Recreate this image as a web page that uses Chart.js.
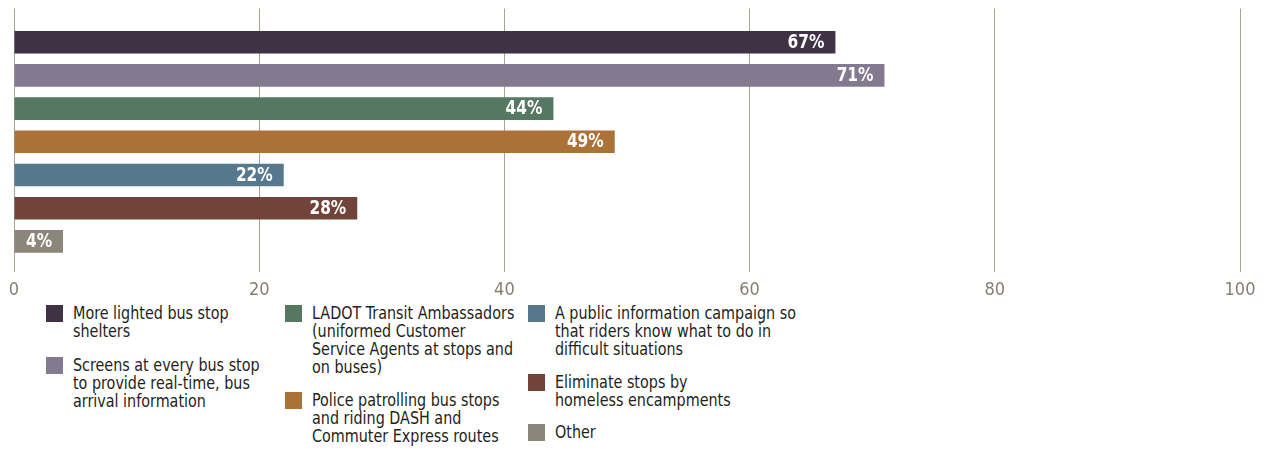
<!DOCTYPE html>
<html><head><meta charset="utf-8">
<script src="https://cdn.jsdelivr.net/npm/chart.js@4.4.0/dist/chart.umd.min.js"></script>
<style>
html,body{margin:0;padding:0;background:#fff;}
#wrap{position:relative;width:1265px;height:452px;overflow:hidden;}
#chartBox{position:absolute;left:0;top:0;width:1265px;height:300px;}
.lg{position:absolute;font-family:'DejaVu Sans Condensed',sans-serif;font-size:18px;line-height:18px;color:#231f20;white-space:nowrap;transform:scaleX(0.886);transform-origin:left top;}
.sw{position:absolute;width:17px;height:17px;}
</style></head>
<body><div id="wrap"><div id="chartBox"><canvas id="cv"></canvas></div><div id="legend"></div></div>
<script>
const categories = [
  ["More lighted bus stop", "shelters"],
  ["Screens at every bus stop", "to provide real-time, bus", "arrival information"],
  ["LADOT Transit Ambassadors", "(uniformed Customer", "Service Agents at stops and", "on buses)"],
  ["Police patrolling bus stops", "and riding DASH and", "Commuter Express routes"],
  ["A public information campaign so", "that riders know what to do in", "difficult situations"],
  ["Eliminate stops by", "homeless encampments"],
  ["Other"]
];
const values = [67, 71, 44, 49, 22, 28, 4];
const barColors = ['#3f3245', '#847a8f', '#557862', '#ab7238', '#56788d', '#724439', '#8c857a'];
const xTickValues = [0, 20, 40, 60, 80, 100];

// legend layout (positions only)
const legendPos = [[46, 304], [46, 356], [285, 304], [285, 391], [528, 304], [528, 373], [528, 423]];

const gridColor = '#a8a296';
const tickColor = '#857e72';

const valueLabels = {
  id: 'valueLabels',
  afterDatasetsDraw(chart) {
    const ctx = chart.ctx;
    const meta = chart.getDatasetMeta(0);
    ctx.save();
    ctx.fillStyle = '#ffffff';
    ctx.font = "bold 19px 'DejaVu Sans Condensed', sans-serif";
    ctx.textAlign = 'right';
    ctx.textBaseline = 'alphabetic';
    meta.data.forEach((el, i) => {
      const txt = chart.data.datasets[0].data[i] + '%';
      const xr = el.x - 11;
      ctx.save();
      ctx.translate(xr, el.y + 5.5);
      ctx.scale(0.9, 1);
      ctx.fillText(txt, 0, 0);
      ctx.restore();
    });
    ctx.restore();
  }
};

const chart = new Chart(document.getElementById('cv'), {
  type: 'bar',
  data: {
    labels: categories,
    datasets: [{
      data: values,
      backgroundColor: barColors,
      borderWidth: 0,
      categoryPercentage: 1,
      barPercentage: 0.68
    }]
  },
  options: {
    indexAxis: 'y',
    responsive: true,
    maintainAspectRatio: false,
    animation: false,
    devicePixelRatio: 1,
    layout: { padding: { left: 14, right: 25, top: 9, bottom: 0 } },
    plugins: { legend: { display: false }, tooltip: { enabled: false } },
    scales: {
      y: { type: 'category', display: false },
      x: {
        type: 'linear', position: 'bottom', min: 0, max: 100,
        afterBuildTicks(s) { s.ticks = xTickValues.map(v => ({ value: v })); },
        ticks: { color: tickColor, padding: 8, font: { family: "'DejaVu Sans Condensed', sans-serif", size: 18 } },
        grid: { color: gridColor, lineWidth: 1, drawTicks: true, tickLength: 14, tickColor: gridColor },
        border: { display: false },
        afterFit(s) { s.height = 42; }
      },
      xTop: {
        type: 'linear', position: 'top', min: 0, max: 100,
        afterBuildTicks(s) { s.ticks = xTickValues.map(v => ({ value: v })); },
        ticks: { display: false },
        grid: { drawOnChartArea: false, drawTicks: true, tickLength: 17, color: gridColor, tickColor: gridColor },
        border: { display: false },
        afterFit(s) { s.height = 16.6; }
      }
    }
  },
  plugins: [valueLabels]
});

const lg = document.getElementById('legend');
categories.forEach((lines, i) => {
  const [x, y] = legendPos[i];
  const sw = document.createElement('div');
  sw.className = 'sw';
  sw.style.left = x + 'px';
  sw.style.top = (y + 1) + 'px';
  sw.style.background = barColors[i];
  lg.appendChild(sw);
  const t = document.createElement('div');
  t.className = 'lg';
  t.style.left = (x + 27) + 'px';
  t.style.top = y + 'px';
  t.innerHTML = lines.join('<br>');
  lg.appendChild(t);
});
</script>
</body></html>
